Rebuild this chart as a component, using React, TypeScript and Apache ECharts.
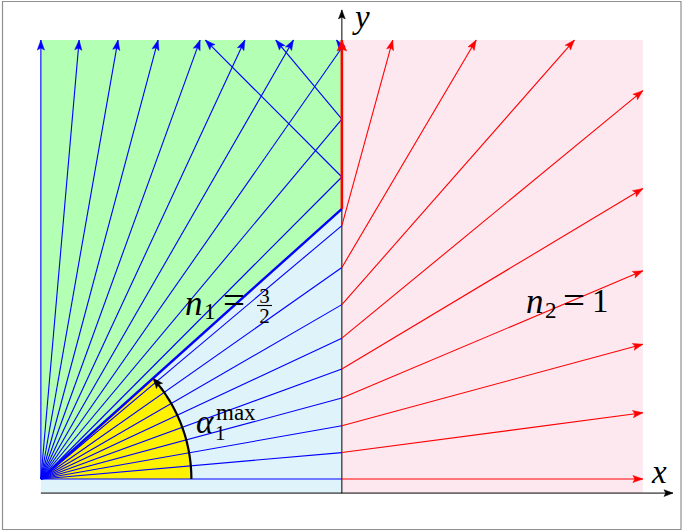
import React, { useEffect, useRef } from "react";
import * as echarts from "echarts";

// ---- physical data ----
const n1 = 1.5;
const n2 = 1;
const sourceDistance = 3; // source to interface (units)
const topHeight = 4.36; // top of drawing above the source
const bottomDepth = 0.14; // x axis below the source
const medium2Width = 3;
const refractedAngles = [0, 5, 10, 15, 20, 25, 30, 35, 40]; // degrees, below critical
const steepAngles = [45, 50, 55, 60, 65, 70, 75, 80, 85, 90]; // degrees, above critical
const arcRadius = 1.5;
const xAxisEnd = 3.3;
const yAxisEnd = 4.66;

const COLORS = {
  green: "#b3ffb3",
  lightBlue: "#dff3fa",
  pink: "#fde8f0",
  yellow: "#fff200",
  blue: "#0000ff",
  red: "#ff0000",
  black: "#000000",
};

// ---- layout ----
const PX = 302 / 3;
const ORIGIN_X = 343;
const SOURCE_Y = 479;
const X_MIN = -3.4;
const X_MAX = 3.4;
const Y_MIN = -0.2;
const Y_MAX = 4.7;

type P = [number, number];
type Seg = { pts: P[]; color: string; width: number; arrow: boolean; ah?: number; aw?: number };

const deg = Math.PI / 180;
const crit = Math.asin(n2 / n1);
const D = sourceDistance;
const H = topHeight;

function rayToBox(x0: number, y0: number, dx: number, dy: number): P {
  let t = Infinity;
  if (dx > 1e-9) t = Math.min(t, (medium2Width - x0) / dx);
  if (dx < -1e-9) t = Math.min(t, (-D - x0) / dx);
  if (dy > 1e-9) t = Math.min(t, (H - y0) / dy);
  return [x0 + t * dx, y0 + t * dy];
}

function buildRays(): Seg[] {
  const segs: Seg[] = [];
  const src: P = [-D, 0];
  for (const a of refractedAngles) {
    const ar = a * deg;
    const yh = D * Math.tan(ar);
    segs.push({ pts: [src, [0, yh]], color: COLORS.blue, width: 1.1, arrow: false });
    const b = Math.asin((n1 * Math.sin(ar)) / n2);
    segs.push({ pts: [[0, yh], rayToBox(0, yh, Math.cos(b), Math.sin(b))], color: COLORS.red, width: 1.1, arrow: true });
  }
  for (const a of steepAngles) {
    const ar = a * deg;
    if (a >= 90) {
      segs.push({ pts: [src, [-D, H]], color: COLORS.blue, width: 1.1, arrow: true });
      continue;
    }
    const yh = D * Math.tan(ar);
    if (yh < H) {
      segs.push({ pts: [src, [0, yh]], color: COLORS.blue, width: 1.1, arrow: false });
      segs.push({ pts: [[0, yh], rayToBox(0, yh, -Math.cos(ar), Math.sin(ar))], color: COLORS.blue, width: 1.1, arrow: true });
    } else {
      segs.push({ pts: [src, [-D + H / Math.tan(ar), H]], color: COLORS.blue, width: 1.1, arrow: true });
    }
  }
  const yc = D * Math.tan(crit);
  segs.push({ pts: [src, [0, yc]], color: COLORS.blue, width: 2.4, arrow: false });
  segs.push({ pts: [[0, yc], [0, H]], color: COLORS.red, width: 2.6, arrow: true, ah: 11, aw: 4.8 });
  return segs;
}

function arcPoints(): P[] {
  const pts: P[] = [];
  const N = 60;
  for (let i = 0; i <= N; i++) {
    const t = (crit * i) / N;
    pts.push([-D + arcRadius * Math.cos(t), arcRadius * Math.sin(t)]);
  }
  return pts;
}

function arrowHead(tip: number[], prev: number[], len: number, hw: number, color: string) {
  const dx = tip[0] - prev[0];
  const dy = tip[1] - prev[1];
  const l = Math.hypot(dx, dy) || 1;
  const ux = dx / l;
  const uy = dy / l;
  const nx = -uy;
  const ny = ux;
  const bx = tip[0] - ux * len;
  const by = tip[1] - uy * len;
  const mx = tip[0] - ux * len * 0.8;
  const my = tip[1] - uy * len * 0.8;
  return {
    type: "polygon",
    shape: {
      points: [
        [tip[0], tip[1]],
        [bx + nx * hw, by + ny * hw],
        [mx, my],
        [bx - nx * hw, by - ny * hw],
      ],
    },
    style: { fill: color, stroke: color, lineWidth: 0.5 },
  };
}

function renderDiagram(_params: any, api: any) {
  const c = (p: P) => api.coord(p);
  const children: any[] = [];
  const yc = D * Math.tan(crit);
  const poly = (pts: P[], fill: string) =>
    children.push({ type: "polygon", shape: { points: pts.map(c) }, style: { fill, stroke: "none" } });

  // regions
  poly([[-D, -bottomDepth], [0, -bottomDepth], [0, yc], [-D, 0]], COLORS.lightBlue);
  poly([[-D, 0], [0, yc], [0, H], [-D, H]], COLORS.green);
  poly([[0, -bottomDepth], [medium2Width, -bottomDepth], [medium2Width, H], [0, H]], COLORS.pink);

  // yellow sector
  const arc = arcPoints();
  poly([[-D, 0], ...arc], COLORS.yellow);

  // axes
  const axes: P[][] = [
    [[-D, -bottomDepth], [xAxisEnd, -bottomDepth]],
    [[0, -bottomDepth], [0, yAxisEnd]],
  ];
  for (const ax of axes) {
    const a = c(ax[0]);
    const b = c(ax[1]);
    children.push({ type: "line", shape: { x1: a[0], y1: a[1], x2: b[0], y2: b[1] }, style: { stroke: COLORS.black, lineWidth: 1 } });
    children.push(arrowHead(b, a, 9, 3.4, COLORS.black));
  }

  // rays
  for (const s of buildRays()) {
    const pts = s.pts.map(c);
    children.push({
      type: "polyline",
      shape: { points: pts },
      style: { stroke: s.color, lineWidth: s.width, fill: "none" },
    });
    if (s.arrow) {
      const tip = pts[pts.length - 1];
      const prev = pts[pts.length - 2];
      children.push(arrowHead(tip, prev, s.ah ?? 10, s.aw ?? 3.6, s.color));
    }
  }

  // angle arc with arrow
  const ap = arc.map(c);
  children.push({ type: "polyline", shape: { points: ap.slice(0, ap.length - 3) }, style: { stroke: COLORS.black, lineWidth: 2.2, fill: "none" } });
  children.push(arrowHead(ap[ap.length - 1], ap[ap.length - 4], 10, 4, COLORS.black));

  return { type: "group", children };
}

const SERIF = '"Liberation Serif", "DejaVu Serif", serif';
const it = (fs: number) => `italic ${fs}px ${SERIF}`;
const up = (fs: number) => `${fs}px ${SERIF}`;

function txt(text: string, x: number, baseline: number, font: string, fs: number, align = "left") {
  return {
    type: "text",
    x,
    y: baseline - 0.34 * fs,
    z: 100,
    silent: true,
    style: { text, font, fill: "#000", align, verticalAlign: "middle", lineHeight: Math.round(fs * 0.7) },
  };
}

export default function App() {
  const ref = useRef<HTMLDivElement>(null);
  useEffect(() => {
    if (!ref.current) return;
    const chart = echarts.init(ref.current, undefined, { renderer: "svg" });
    const gridLeft = ORIGIN_X + X_MIN * PX;
    const gridTop = SOURCE_Y - Y_MAX * PX;
    const option: any = {
      animation: false,
      backgroundColor: "#ffffff",
      grid: {
        left: gridLeft,
        top: gridTop,
        width: (X_MAX - X_MIN) * PX,
        height: (Y_MAX - Y_MIN) * PX,
        containLabel: false,
      },
      xAxis: { type: "value", min: X_MIN, max: X_MAX, show: false },
      yAxis: { type: "value", min: Y_MIN, max: Y_MAX, show: false },
      series: [
        {
          type: "custom",
          renderItem: renderDiagram,
          data: [[0, 0]],
          silent: true,
          clip: false,
          z: 2,
        },
      ],
      graphic: [
        {
          type: "rect",
          z: 100,
          shape: { x: 2.5, y: 1.5, width: 678.5, height: 528 },
          style: { fill: "none", stroke: "#8f8f8f", lineWidth: 1.2 },
          silent: true,
        },
        // n1 = 3/2
        txt("n", 185, 315, it(35), 35),
        txt("1", 204, 319, up(23), 23),
        txt("=", 223, 314, up(39), 39),
        txt("3", 264.5, 303, up(21), 21, "center"),
        { type: "line", z: 100, shape: { x1: 257, y1: 305.5, x2: 272, y2: 305.5 }, style: { stroke: "#000", lineWidth: 1.1 }, silent: true },
        txt("2", 264.5, 323, up(21), 21, "center"),
        // n2 = 1
        txt("n", 526, 313, it(35), 35),
        txt("2", 545, 318, up(23), 23),
        txt("=", 563, 314, up(39), 39),
        txt("1", 592, 312.5, up(33), 33),
        // alpha_1^max
        txt("α", 196, 433.5, it(33), 33),
        txt("max", 216, 420, up(23), 23),
        txt("1", 215, 440.5, up(21), 21),
        // axis labels
        txt("x", 652, 483, it(33), 33),
        txt("y", 355, 28, it(33), 33),
      ],
    };
    chart.setOption(option);
    return () => chart.dispose();
  }, []);
  return <div ref={ref} style={{ position: "fixed", left: 0, top: 0, width: 683, height: 531 }} />;
}
